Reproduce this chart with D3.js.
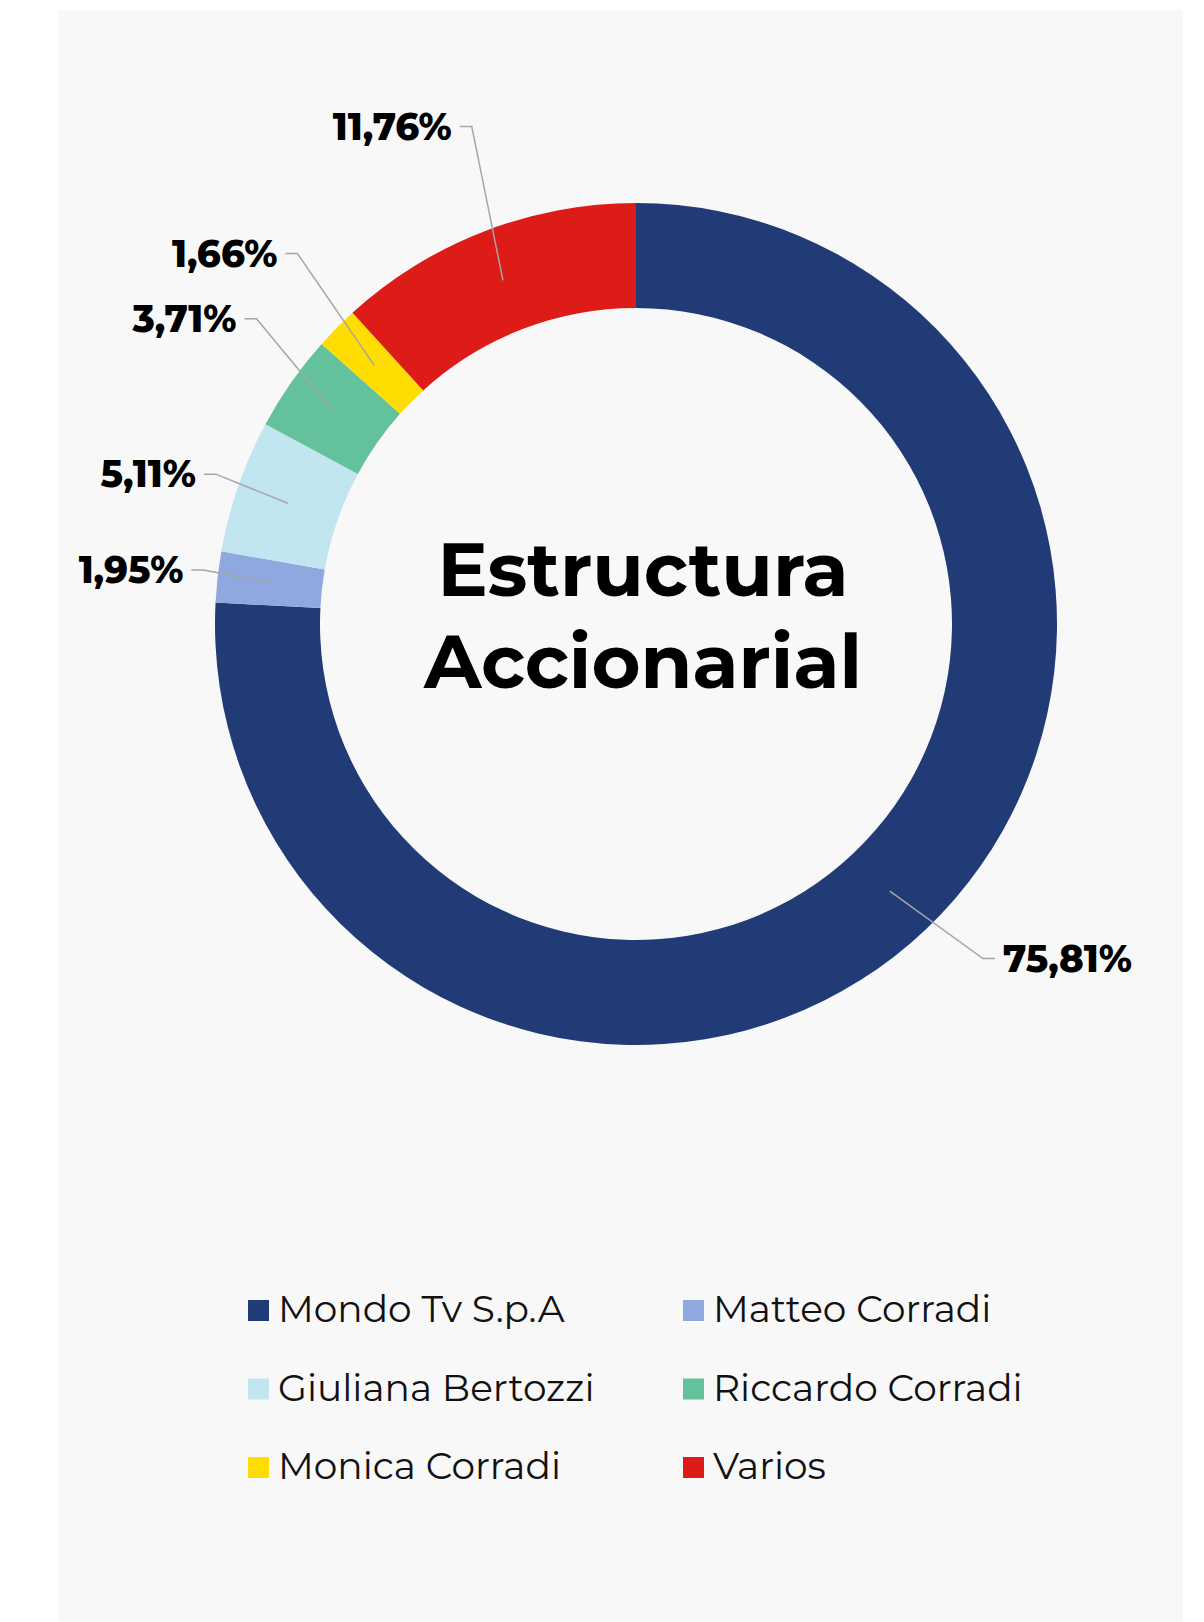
<!DOCTYPE html>
<html>
<head>
<meta charset="utf-8">
<script src="https://cdn.jsdelivr.net/npm/d3@7"></script>
<style>
  body { margin: 0; background: #fff; }
  svg { display: block; font-family: "Montserrat", Inter, "Noto Sans", sans-serif; }
</style>
</head>
<body>
<svg width="1204" height="1622"></svg>
<script>
// shareholders, clockwise from 12 o'clock
const holders = ["Mondo Tv S.p.A", "Matteo Corradi", "Giuliana Bertozzi", "Riccardo Corradi", "Monica Corradi", "Varios"];
const shares = [75.81, 1.95, 5.11, 3.71, 1.66, 11.76];
const colors = ["#213b77", "#8fa9e0", "#c1e6ef", "#63c29b", "#ffdd00", "#dd1c17"];
const titleLines = ["Estructura", "Accionarial"];

// label elbow placement (radius from center, angle nudge in degrees)
const labelRadius = [482, 436, 446, 487, 502, 524];
const labelNudge = [-2.5, 0.7, 0.5, 3.8, 2.9, 2.9];

let svg = d3.select("svg");
const cx = 636, cy = 624;
const outerR = 421, innerR = 316;

svg.append("rect")
  .attr("x", 58).attr("y", 10)
  .attr("width", 1125).attr("height", 1612)
  .attr("fill", "#f8f8f8");

let pie = d3.pie().sort(null).value(d => d);
let arcs = pie(shares);

let arc = d3.arc().innerRadius(innerR).outerRadius(outerR);
let midArc = d3.arc().innerRadius((innerR + outerR) / 2).outerRadius((innerR + outerR) / 2);

let g = svg.append("g").attr("transform", `translate(${cx},${cy})`);

g.selectAll("path.slice")
  .data(arcs)
  .enter().append("path")
    .attr("class", "slice")
    .attr("d", arc)
    .attr("fill", (d, i) => colors[i]);

const fmt = v => v.toFixed(2).replace(".", ",") + "%";
const rad = deg => deg * Math.PI / 180;

let labels = g.selectAll("g.label")
  .data(arcs)
  .enter().append("g")
    .attr("class", "label");

labels.each(function(d, i) {
  let sel = d3.select(this);
  let start = midArc.centroid(d);
  let a = (d.startAngle + d.endAngle) / 2 + rad(labelNudge[i]);
  let elbow = [labelRadius[i] * Math.sin(a), -labelRadius[i] * Math.cos(a)];
  let side = elbow[0] > 0 ? 1 : -1;
  let end = [elbow[0] + side * 12, elbow[1]];

  sel.append("polyline")
    .attr("points", [start, elbow, end].map(p => p.join(",")).join(" "))
    .attr("fill", "none")
    .attr("stroke", "#a6a6a6")
    .attr("stroke-width", 1.5);

  sel.append("text")
    .attr("x", end[0] + side * 8)
    .attr("y", end[1])
    .attr("dy", "0.36em")
    .attr("text-anchor", side > 0 ? "start" : "end")
    .attr("font-size", 37)
    .attr("font-weight", 800)
    .attr("fill", "#000")
    .text(fmt(d.data));
});

// center title
svg.append("g")
  .selectAll("text")
  .data(titleLines)
  .enter().append("text")
    .attr("x", 643)
    .attr("y", (d, i) => 596 + i * 92)
    .attr("text-anchor", "middle")
    .attr("font-size", 75)
    .attr("font-weight", 700)
    .attr("fill", "#000")
    .text(d => d);

// legend, two columns
let legend = svg.append("g")
  .selectAll("g")
  .data(holders)
  .enter().append("g")
    .attr("transform", (d, i) => `translate(${i % 2 === 0 ? 248 : 683},${1300 + Math.floor(i / 2) * 78.5})`);

legend.append("rect")
  .attr("width", 21).attr("height", 21)
  .attr("fill", (d, i) => colors[i]);

legend.append("text")
  .attr("x", 30)
  .attr("y", 22)
  .attr("font-size", 37.5)
  .attr("fill", "#111")
  .text(d => d);
</script>
</body>
</html>
